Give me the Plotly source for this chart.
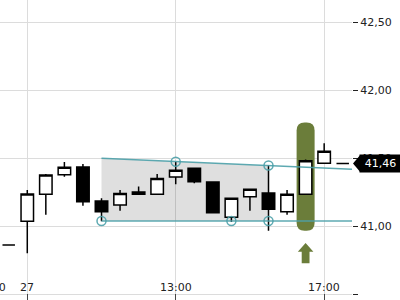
import plotly.graph_objects as go

# ---- data (30-min candles, index 0 = 27th 09:00) ----
idx   = [-1, 0, 1, 2, 3, 4, 5, 6, 7, 8, 9, 10, 11, 12, 13, 14, 15, 16, 17]
opens = [40.86, 41.035, 41.233, 41.377, 41.434, 41.184, 41.154, 41.250, 41.233, 41.360,
         41.425, 41.324, 41.065, 41.215, 41.243, 41.105, 41.233, 41.462, 41.46]
highs = [40.86, 41.265, 41.382, 41.470, 41.456, 41.204, 41.265, 41.290, 41.382, 41.473,
         41.425, 41.324, 41.204, 41.270, 41.449, 41.265, 41.490, 41.608, 41.46]
lows  = [40.86, 40.800, 41.083, 41.363, 41.149, 41.035, 41.113, 41.233, 41.233, 41.307,
         41.314, 41.098, 41.030, 41.113, 40.966, 41.083, 41.233, 41.462, 41.46]
closes= [40.86, 41.235, 41.375, 41.432, 41.179, 41.105, 41.240, 41.233, 41.350, 41.410,
         41.326, 41.098, 41.204, 41.270, 41.123, 41.233, 41.480, 41.550, 41.46]

x_label_pos  = [-2, 0, 8, 16]
x_label_text = ["17:00", "27", "13:00", "17:00"]
y_ticks      = [40.5, 41.0, 41.5, 42.0, 42.5]
y_tick_text  = ["40,50", "41,00", "41,50", "42,00", "42,50"]

last_price = 41.46
last_price_text = "41,46"

# pattern (triangle / range) lines
resist_x = [4, 17.5]
resist_y = [41.498, 41.417]
support_x = [4, 17.5]
support_y = [41.037, 41.037]
pattern_end = 13
pivot_x = [4, 8, 11, 13, 13]
pivot_y = [41.037, 41.473, 41.037, 41.445, 41.037]
signal_idx = 15

X_RANGE = [-1.47, 17.5]
Y_RANGE = [40.456, 42.662]

TEAL = "rgba(75,160,168,0.9)"
GREEN = "#6b7d3a"

fig = go.Figure()

def interp(xa, ya, x):
    return ya[0] + (ya[1] - ya[0]) * (x - xa[0]) / (xa[1] - xa[0])

def to_paper_x(v):
    return (v - X_RANGE[0]) / (X_RANGE[1] - X_RANGE[0])

# gray pattern area
top_end = interp(resist_x, resist_y, pattern_end)
bot = support_y[0]
fig.add_shape(type="path", layer="between", line=dict(width=0),
              fillcolor="rgba(0,0,0,0.125)",
              path=f"M {resist_x[0]},{resist_y[0]} L {pattern_end},{top_end} "
                   f"L {pattern_end},{bot} L {support_x[0]},{bot} Z")

# green highlight box (rounded)
hw = 0.485
top, bottom = 41.762, 40.965
rx, ry = 0.43, 0.059
x0, x1 = signal_idx - hw, signal_idx + hw
fig.add_shape(type="path", layer="between", line=dict(width=0), fillcolor=GREEN,
              path=(f"M {x0+rx},{top} L {x1-rx},{top} Q {x1},{top} {x1},{top-ry} "
                    f"L {x1},{bottom+ry} Q {x1},{bottom} {x1-rx},{bottom} "
                    f"L {x0+rx},{bottom} Q {x0},{bottom} {x0},{bottom+ry} "
                    f"L {x0},{top-ry} Q {x0},{top} {x0+rx},{top} Z"))

# green up arrow
ah_top, ah_base, a_bot = 40.875, 40.810, 40.727
hwh, hws = 0.42, 0.21
c = signal_idx
fig.add_shape(type="path", layer="above", line=dict(width=0), fillcolor=GREEN,
              path=(f"M {c},{ah_top} L {c+hwh},{ah_base} L {c+hws},{ah_base} "
                    f"L {c+hws},{a_bot} L {c-hws},{a_bot} L {c-hws},{ah_base} "
                    f"L {c-hwh},{ah_base} Z"))

# trend lines
fig.add_trace(go.Scatter(x=resist_x, y=resist_y, mode="lines",
                         line=dict(color=TEAL, width=1.5), hoverinfo="skip"))
fig.add_trace(go.Scatter(x=support_x, y=support_y, mode="lines",
                         line=dict(color=TEAL, width=1.5), hoverinfo="skip"))

# candles
fig.add_trace(go.Candlestick(
    x=idx, open=opens, high=highs, low=lows, close=closes,
    increasing=dict(fillcolor="white", line=dict(color="black", width=1.5)),
    decreasing=dict(fillcolor="black", line=dict(color="black", width=1.5)),
    whiskerwidth=0, hoverinfo="skip"))

# pivot circles
fig.add_trace(go.Scatter(x=pivot_x, y=pivot_y, mode="markers",
                         marker=dict(symbol="circle-open", size=9,
                                     line=dict(color=TEAL, width=1.5), color=TEAL),
                         hoverinfo="skip"))

# last-price tag: arrow tip shape + boxed annotation (covers tick label)
PLOT_W = 352.0
hh = 8.3 / 136.0
tip = 353 / PLOT_W
body = 360 / PLOT_W
fig.add_shape(type="path", xref="paper", yref="y", layer="above",
              line=dict(width=0), fillcolor="black",
              path=(f"M {tip},{last_price} L {body},{last_price+hh} "
                    f"L {body},{last_price-hh} Z"))
fig.add_annotation(x=359 / PLOT_W, xref="paper", y=last_price, yref="y",
                   xanchor="left", yanchor="middle",
                   text=last_price_text, showarrow=False,
                   width=39, height=15, borderpad=1, bgcolor="black",
                   align="center", valign="middle",
                   font=dict(family="DejaVu Sans", size=11, color="white"))

# x labels (inside, above bottom edge)
for p, t in zip(x_label_pos, x_label_text):
    fig.add_annotation(x=to_paper_x(p), xref="paper", y=0.012, yref="paper",
                       yanchor="bottom", xanchor="center",
                       text=t, showarrow=False,
                       font=dict(family="DejaVu Sans", size=11, color="#222"))

fig.update_layout(
    width=400, height=300,
    margin=dict(l=0, r=48, t=0, b=0),
    paper_bgcolor="white", plot_bgcolor="white",
    showlegend=False,
    boxgap=0.18, boxgroupgap=0.18,
    font=dict(family="DejaVu Sans", size=11, color="#222"),
    xaxis=dict(range=X_RANGE, rangeslider=dict(visible=False),
               tickvals=[v for v in x_label_pos if v >= X_RANGE[0]],
               showticklabels=False, ticks="inside", ticklen=6, tickcolor="#444",
               showgrid=True, gridcolor="#dcdcdc", gridwidth=1,
               zeroline=False, showline=False),
    yaxis=dict(range=Y_RANGE, side="right", tickvals=y_ticks, ticktext=y_tick_text,
               ticks="outside", ticklen=5, tickcolor="#222",
               showgrid=True, gridcolor="#dcdcdc", gridwidth=1,
               zeroline=False, showline=False,
               tickfont=dict(family="DejaVu Sans", size=11, color="#222")),
)

fig.write_html("out.html")
